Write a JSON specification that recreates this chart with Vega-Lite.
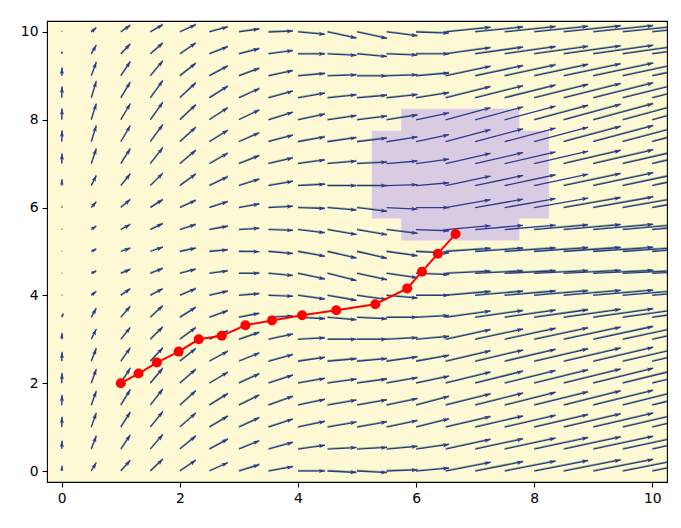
{
 "$schema": "https://vega.github.io/schema/vega-lite/v6.json",
 "width": 620, "height": 461,
 "autosize": {"type": "none"},
 "padding": {"left": 47, "top": 21, "right": 14, "bottom": 46},
 "background": "white",
 "config": {
  "view": {"fill": "#fef9d5", "stroke": "black", "strokeWidth": 1.1},
  "axis": {"domain": false, "grid": false, "ticks": true, "tickColor": "black", "tickSize": 5, "tickWidth": 1.1, "labelFont": "DejaVu Sans", "labelFontSize": 13.9, "labelColor": "black", "labelPadding": 4, "title": null, "format": "d"}
 },
 "datasets": {
  "obstacle": [{"x1":5.75,"x2":7.75,"y1":5.25,"y2":8.25},{"x1":5.25,"x2":8.25,"y1":5.75,"y2":7.75}],
  "path": [{"i":1,"x":1.0,"y":2.0},{"i":2,"x":1.30,"y":2.22},{"i":3,"x":1.61,"y":2.47},{"i":4,"x":1.98,"y":2.72},{"i":5,"x":2.32,"y":3.0},{"i":6,"x":2.71,"y":3.08},{"i":7,"x":3.11,"y":3.32},{"i":8,"x":3.56,"y":3.43},{"i":9,"x":4.07,"y":3.55},{"i":10,"x":4.65,"y":3.66},{"i":11,"x":5.31,"y":3.80},{"i":12,"x":5.85,"y":4.16},{"i":13,"x":6.10,"y":4.54},{"i":14,"x":6.37,"y":4.95},{"i":15,"x":6.67,"y":5.40}],
  "field": [
{"x":0,"y":0,"u":0.3,"v":5},{"x":0,"y":0.5,"u":0.3,"v":8},{"x":0,"y":1,"u":0.3,"v":10},{"x":0,"y":1.5,"u":0.3,"v":10},{"x":0,"y":2,"u":0.3,"v":10},{"x":0,"y":2.5,"u":0.3,"v":9},{"x":0,"y":3,"u":0.3,"v":6},{"x":0,"y":3.5,"u":1.5,"v":3.5},{"x":0,"y":4,"u":0.3,"v":0.5},{"x":0,"y":4.5,"u":0.3,"v":0.3},{"x":0,"y":5,"u":0.3,"v":0.3},{"x":0,"y":5.5,"u":0.3,"v":0.5},{"x":0,"y":6,"u":0.3,"v":1},{"x":0,"y":6.5,"u":0.3,"v":6},{"x":0,"y":7,"u":0.3,"v":10},{"x":0,"y":7.5,"u":0.3,"v":11},{"x":0,"y":8,"u":0.3,"v":11},{"x":0,"y":8.5,"u":0.3,"v":11},{"x":0,"y":9,"u":0.3,"v":8},{"x":0,"y":9.5,"u":0.3,"v":2},{"x":0,"y":10,"u":0.3,"v":0.5},
{"x":0.5,"y":0,"u":5,"v":8.3},{"x":0.5,"y":0.5,"u":5,"v":13},{"x":0.5,"y":1,"u":5,"v":14},{"x":0.5,"y":1.5,"u":5,"v":14},{"x":0.5,"y":2,"u":5,"v":14},{"x":0.5,"y":2.5,"u":5,"v":12.7},{"x":0.5,"y":3,"u":5,"v":10},{"x":0.5,"y":3.5,"u":5,"v":9},{"x":0.5,"y":4,"u":5,"v":4},{"x":0.5,"y":4.5,"u":5,"v":2.3},{"x":0.5,"y":5,"u":5,"v":2.3},{"x":0.5,"y":5.5,"u":5,"v":3.3},{"x":0.5,"y":6,"u":5,"v":5.7},{"x":0.5,"y":6.5,"u":5,"v":10},{"x":0.5,"y":7,"u":5,"v":15},{"x":0.5,"y":7.5,"u":5,"v":16},{"x":0.5,"y":8,"u":5,"v":16},{"x":0.5,"y":8.5,"u":5,"v":16.5},{"x":0.5,"y":9,"u":5,"v":13.7},{"x":0.5,"y":9.5,"u":5,"v":8.7},{"x":0.5,"y":10,"u":5,"v":4.2},
{"x":1,"y":0,"u":9.5,"v":10.7},{"x":1,"y":0.5,"u":9.5,"v":14},{"x":1,"y":1,"u":9.5,"v":15},{"x":1,"y":1.5,"u":9.5,"v":15.5},{"x":1,"y":2,"u":9.5,"v":15},{"x":1,"y":2.5,"u":9.5,"v":13.3},{"x":1,"y":3,"u":9.5,"v":11.7},{"x":1,"y":3.5,"u":9.5,"v":11},{"x":1,"y":4,"u":9.5,"v":6.7},{"x":1,"y":4.5,"u":9.5,"v":4},{"x":1,"y":5,"u":9.5,"v":3.3},{"x":1,"y":5.5,"u":9.5,"v":5},{"x":1,"y":6,"u":9.5,"v":8},{"x":1,"y":6.5,"u":9.5,"v":11.7},{"x":1,"y":7,"u":9.5,"v":15},{"x":1,"y":7.5,"u":9.5,"v":16},{"x":1,"y":8,"u":9.5,"v":16},{"x":1,"y":8.5,"u":9.5,"v":15.7},{"x":1,"y":9,"u":9.5,"v":14.3},{"x":1,"y":9.5,"u":9.5,"v":10},{"x":1,"y":10,"u":9.5,"v":6.7},
{"x":1.5,"y":0,"u":12.5,"v":11.7},{"x":1.5,"y":0.5,"u":12.5,"v":14.5},{"x":1.5,"y":1,"u":12.5,"v":15.5},{"x":1.5,"y":1.5,"u":12.5,"v":16},{"x":1.5,"y":2,"u":12.5,"v":15},{"x":1.5,"y":2.5,"u":12.5,"v":13.3},{"x":1.5,"y":3,"u":12.5,"v":12.3},{"x":1.5,"y":3.5,"u":12.5,"v":11.7},{"x":1.5,"y":4,"u":12.5,"v":6.7},{"x":1.5,"y":4.5,"u":12.5,"v":5},{"x":1.5,"y":5,"u":12.5,"v":4.3},{"x":1.5,"y":5.5,"u":12.5,"v":6},{"x":1.5,"y":6,"u":12.5,"v":8},{"x":1.5,"y":6.5,"u":12.5,"v":12.3},{"x":1.5,"y":7,"u":12.5,"v":16},{"x":1.5,"y":7.5,"u":12.5,"v":17},{"x":1.5,"y":8,"u":12.5,"v":17.5},{"x":1.5,"y":8.5,"u":12.5,"v":17.3},{"x":1.5,"y":9,"u":12.5,"v":15},{"x":1.5,"y":9.5,"u":12.5,"v":11},{"x":1.5,"y":10,"u":12.5,"v":7.3},
{"x":2,"y":0,"u":16,"v":10.7},{"x":2,"y":0.5,"u":16,"v":13},{"x":2,"y":1,"u":16,"v":14},{"x":2,"y":1.5,"u":16,"v":14.5},{"x":2,"y":2,"u":16,"v":14},{"x":2,"y":2.5,"u":16,"v":12.7},{"x":2,"y":3,"u":16,"v":11.7},{"x":2,"y":3.5,"u":16,"v":10},{"x":2,"y":4,"u":16,"v":6.7},{"x":2,"y":4.5,"u":16,"v":4.3},{"x":2,"y":5,"u":16,"v":3.3},{"x":2,"y":5.5,"u":16,"v":5},{"x":2,"y":6,"u":16,"v":7.3},{"x":2,"y":6.5,"u":16,"v":11.7},{"x":2,"y":7,"u":16,"v":13.5},{"x":2,"y":7.5,"u":16,"v":14.5},{"x":2,"y":8,"u":16,"v":15},{"x":2,"y":8.5,"u":16,"v":15},{"x":2,"y":9,"u":16,"v":12.7},{"x":2,"y":9.5,"u":16,"v":11},{"x":2,"y":10,"u":16,"v":7.3},
{"x":2.5,"y":0,"u":18.5,"v":8.3},{"x":2.5,"y":0.5,"u":18.5,"v":10},{"x":2.5,"y":1,"u":18.5,"v":11},{"x":2.5,"y":1.5,"u":18.5,"v":11.5},{"x":2.5,"y":2,"u":18.5,"v":11},{"x":2.5,"y":2.5,"u":18.5,"v":10},{"x":2.5,"y":3,"u":18.5,"v":8.5},{"x":2.5,"y":3.5,"u":18.5,"v":6.7},{"x":2.5,"y":4,"u":18.5,"v":4.3},{"x":2.5,"y":4.5,"u":18.5,"v":2.5},{"x":2.5,"y":5,"u":18.5,"v":1.7},{"x":2.5,"y":5.5,"u":18.5,"v":3.3},{"x":2.5,"y":6,"u":18.5,"v":6},{"x":2.5,"y":6.5,"u":18.5,"v":9},{"x":2.5,"y":7,"u":18.5,"v":10.5},{"x":2.5,"y":7.5,"u":18.5,"v":11.5},{"x":2.5,"y":8,"u":18.5,"v":12},{"x":2.5,"y":8.5,"u":18.5,"v":11.7},{"x":2.5,"y":9,"u":18.5,"v":10},{"x":2.5,"y":9.5,"u":18.5,"v":7.3},{"x":2.5,"y":10,"u":18.5,"v":5},
{"x":3,"y":0,"u":20.5,"v":6.3},{"x":3,"y":0.5,"u":20.5,"v":8.3},{"x":3,"y":1,"u":20.5,"v":9.5},{"x":3,"y":1.5,"u":20.5,"v":10.2},{"x":3,"y":2,"u":20.5,"v":9.5},{"x":3,"y":2.5,"u":20.5,"v":8.3},{"x":3,"y":3,"u":20.5,"v":6.9},{"x":3,"y":3.5,"u":20.5,"v":4},{"x":3,"y":4,"u":20.5,"v":1.7},{"x":3,"y":4.5,"u":20.5,"v":0.2},{"x":3,"y":5,"u":20.5,"v":-0.2},{"x":3,"y":5.5,"u":20.5,"v":1.2},{"x":3,"y":6,"u":20.5,"v":3.6},{"x":3,"y":6.5,"u":20.5,"v":6.6},{"x":3,"y":7,"u":20.5,"v":8.1},{"x":3,"y":7.5,"u":20.5,"v":9},{"x":3,"y":8,"u":20.5,"v":9.8},{"x":3,"y":8.5,"u":20.5,"v":9.2},{"x":3,"y":9,"u":20.5,"v":7.6},{"x":3,"y":9.5,"u":20.5,"v":5.3},{"x":3,"y":10,"u":20.5,"v":3},
{"x":3.5,"y":0,"u":24.5,"v":4.3},{"x":3.5,"y":0.5,"u":24.5,"v":6.6},{"x":3.5,"y":1,"u":24.5,"v":8},{"x":3.5,"y":1.5,"u":24.5,"v":8.9},{"x":3.5,"y":2,"u":24.5,"v":8},{"x":3.5,"y":2.5,"u":24.5,"v":6.6},{"x":3.5,"y":3,"u":24.5,"v":5.2},{"x":3.5,"y":3.5,"u":24.5,"v":1.3},{"x":3.5,"y":4,"u":24.5,"v":-0.9},{"x":3.5,"y":4.5,"u":24.5,"v":-2.1},{"x":3.5,"y":5,"u":24.5,"v":-2.1},{"x":3.5,"y":5.5,"u":24.5,"v":-0.9},{"x":3.5,"y":6,"u":24.5,"v":1.3},{"x":3.5,"y":6.5,"u":24.5,"v":4.3},{"x":3.5,"y":7,"u":24.5,"v":5.7},{"x":3.5,"y":7.5,"u":24.5,"v":6.6},{"x":3.5,"y":8,"u":24.5,"v":7.5},{"x":3.5,"y":8.5,"u":24.5,"v":6.6},{"x":3.5,"y":9,"u":24.5,"v":5.2},{"x":3.5,"y":9.5,"u":24.5,"v":3.4},{"x":3.5,"y":10,"u":24.5,"v":0.9},
{"x":4,"y":0,"u":27,"v":0},{"x":4,"y":0.5,"u":27,"v":3.8},{"x":4,"y":1,"u":27,"v":5.7},{"x":4,"y":1.5,"u":27,"v":5.7},{"x":4,"y":2,"u":27,"v":4.8},{"x":4,"y":2.5,"u":27,"v":3.8},{"x":4,"y":3,"u":27,"v":1.4},{"x":4,"y":3.5,"u":27,"v":-1.4},{"x":4,"y":4,"u":27,"v":-3.8},{"x":4,"y":4.5,"u":27,"v":-5.7},{"x":4,"y":5,"u":27,"v":-4.8},{"x":4,"y":5.5,"u":27,"v":-3.3},{"x":4,"y":6,"u":27,"v":-0.9},{"x":4,"y":6.5,"u":27,"v":1.4},{"x":4,"y":7,"u":27,"v":3.8},{"x":4,"y":7.5,"u":27,"v":4.8},{"x":4,"y":8,"u":27,"v":5.7},{"x":4,"y":8.5,"u":27,"v":4.8},{"x":4,"y":9,"u":27,"v":2.4},{"x":4,"y":9.5,"u":27,"v":0},{"x":4,"y":10,"u":27,"v":-2.4},
{"x":4.5,"y":0,"u":29,"v":-1.5},{"x":4.5,"y":0.5,"u":29,"v":1.5},{"x":4.5,"y":1,"u":29,"v":5.1},{"x":4.5,"y":1.5,"u":29,"v":5.1},{"x":4.5,"y":2,"u":29,"v":4.1},{"x":4.5,"y":2.5,"u":29,"v":2.5},{"x":4.5,"y":3,"u":29,"v":0},{"x":4.5,"y":3.5,"u":29,"v":-2.5},{"x":4.5,"y":4,"u":29,"v":-5.1},{"x":4.5,"y":4.5,"u":29,"v":-7.2},{"x":4.5,"y":5,"u":29,"v":-6.7},{"x":4.5,"y":5.5,"u":29,"v":-5.1},{"x":4.5,"y":6,"u":29,"v":-2.5},{"x":4.5,"y":6.5,"u":29,"v":0},{"x":4.5,"y":7,"u":29,"v":2.5},{"x":4.5,"y":7.5,"u":29,"v":4.1},{"x":4.5,"y":8,"u":29,"v":4.1},{"x":4.5,"y":8.5,"u":29,"v":3},{"x":4.5,"y":9,"u":29,"v":1},{"x":4.5,"y":9.5,"u":29,"v":-1.5},{"x":4.5,"y":10,"u":29,"v":-6.2},
{"x":5,"y":0,"u":30,"v":-1.6},{"x":5,"y":0.5,"u":30,"v":1.6},{"x":5,"y":1,"u":30,"v":5.3},{"x":5,"y":1.5,"u":30,"v":5.3},{"x":5,"y":2,"u":30,"v":4.2},{"x":5,"y":2.5,"u":30,"v":2.6},{"x":5,"y":3,"u":30,"v":0},{"x":5,"y":3.5,"u":30,"v":-1.6},{"x":5,"y":4,"u":30,"v":-4.2},{"x":5,"y":4.5,"u":30,"v":-6.4},{"x":5,"y":5,"u":30,"v":-6.9},{"x":5,"y":5.5,"u":30,"v":-5.3},{"x":5,"y":6,"u":30,"v":-3.7},{"x":5,"y":6.5,"u":30,"v":0},{"x":5,"y":7,"u":30,"v":1.6},{"x":5,"y":7.5,"u":30,"v":3.7},{"x":5,"y":8,"u":30,"v":3.7},{"x":5,"y":8.5,"u":30,"v":2.6},{"x":5,"y":9,"u":30,"v":0},{"x":5,"y":9.5,"u":30,"v":-2.6},{"x":5,"y":10,"u":30,"v":-6.4},
{"x":5.5,"y":0,"u":31,"v":1.1},{"x":5.5,"y":0.5,"u":31,"v":2.7},{"x":5.5,"y":1,"u":31,"v":6.6},{"x":5.5,"y":1.5,"u":31,"v":6.6},{"x":5.5,"y":2,"u":31,"v":5.5},{"x":5.5,"y":2.5,"u":31,"v":4.4},{"x":5.5,"y":3,"u":31,"v":1.6},{"x":5.5,"y":3.5,"u":31,"v":0},{"x":5.5,"y":4,"u":31,"v":-2.7},{"x":5.5,"y":4.5,"u":31,"v":-4.4},{"x":5.5,"y":5,"u":31,"v":-4.4},{"x":5.5,"y":5.5,"u":31,"v":-3.8},{"x":5.5,"y":6,"u":31,"v":-1.6},{"x":5.5,"y":6.5,"u":31,"v":1.1},{"x":5.5,"y":7,"u":31,"v":2.7},{"x":5.5,"y":7.5,"u":31,"v":4.9},{"x":5.5,"y":8,"u":31,"v":4.9},{"x":5.5,"y":8.5,"u":31,"v":3.3},{"x":5.5,"y":9,"u":31,"v":1.1},{"x":5.5,"y":9.5,"u":31,"v":-1.1},{"x":5.5,"y":10,"u":31,"v":-3.8},
{"x":6,"y":0,"u":33,"v":2.9},{"x":6,"y":0.5,"u":33,"v":4.6},{"x":6,"y":1,"u":33,"v":8.2},{"x":6,"y":1.5,"u":33,"v":8.8},{"x":6,"y":2,"u":33,"v":7},{"x":6,"y":2.5,"u":33,"v":5.8},{"x":6,"y":3,"u":33,"v":2.9},{"x":6,"y":3.5,"u":33,"v":1.7},{"x":6,"y":4,"u":33,"v":0},{"x":6,"y":4.5,"u":33,"v":-1.2},{"x":6,"y":5,"u":33,"v":-1.7},{"x":6,"y":5.5,"u":33,"v":-1.2},{"x":6,"y":6,"u":33,"v":0},{"x":6,"y":6.5,"u":33,"v":2.9},{"x":6,"y":7,"u":33,"v":4.6},{"x":6,"y":7.5,"u":33,"v":7},{"x":6,"y":8,"u":33,"v":7},{"x":6,"y":8.5,"u":33,"v":5.2},{"x":6,"y":9,"u":33,"v":2.9},{"x":6,"y":9.5,"u":33,"v":0},{"x":6,"y":10,"u":33,"v":-1.2},
{"x":6.5,"y":0,"u":45,"v":8.7},{"x":6.5,"y":0.5,"u":45,"v":9.6},{"x":6.5,"y":1,"u":45,"v":10.4},{"x":6.5,"y":1.5,"u":45,"v":11.2},{"x":6.5,"y":2,"u":45,"v":11.2},{"x":6.5,"y":2.5,"u":45,"v":10.4},{"x":6.5,"y":3,"u":45,"v":9.6},{"x":6.5,"y":3.5,"u":45,"v":6.3},{"x":6.5,"y":4,"u":45,"v":3.9},{"x":6.5,"y":4.5,"u":45,"v":2.3},{"x":6.5,"y":5,"u":45,"v":3.2},{"x":6.5,"y":5.5,"u":45,"v":3.9},{"x":6.5,"y":6,"u":45,"v":7.9},{"x":6.5,"y":6.5,"u":45,"v":9.6},{"x":6.5,"y":7,"u":45,"v":10.4},{"x":6.5,"y":7.5,"u":45,"v":12.1},{"x":6.5,"y":8,"u":45,"v":12.1},{"x":6.5,"y":8.5,"u":45,"v":11.2},{"x":6.5,"y":9,"u":45,"v":9.6},{"x":6.5,"y":9.5,"u":45,"v":6.3},{"x":6.5,"y":10,"u":45,"v":4.7},
{"x":7,"y":0,"u":48,"v":9.3},{"x":7,"y":0.5,"u":48,"v":10.2},{"x":7,"y":1,"u":48,"v":11.1},{"x":7,"y":1.5,"u":48,"v":12},{"x":7,"y":2,"u":48,"v":12},{"x":7,"y":2.5,"u":48,"v":11.1},{"x":7,"y":3,"u":48,"v":10.2},{"x":7,"y":3.5,"u":48,"v":6.8},{"x":7,"y":4,"u":48,"v":4.2},{"x":7,"y":4.5,"u":48,"v":2.5},{"x":7,"y":5,"u":48,"v":3.4},{"x":7,"y":5.5,"u":48,"v":4.2},{"x":7,"y":6,"u":48,"v":8.4},{"x":7,"y":6.5,"u":48,"v":10.2},{"x":7,"y":7,"u":48,"v":11.1},{"x":7,"y":7.5,"u":48,"v":12.9},{"x":7,"y":8,"u":48,"v":12.9},{"x":7,"y":8.5,"u":48,"v":12},{"x":7,"y":9,"u":48,"v":10.2},{"x":7,"y":9.5,"u":48,"v":6.8},{"x":7,"y":10,"u":48,"v":5},
{"x":7.5,"y":0,"u":51,"v":9.9},{"x":7.5,"y":0.5,"u":51,"v":10.9},{"x":7.5,"y":1,"u":51,"v":11.8},{"x":7.5,"y":1.5,"u":51,"v":12.7},{"x":7.5,"y":2,"u":51,"v":12.7},{"x":7.5,"y":2.5,"u":51,"v":11.8},{"x":7.5,"y":3,"u":51,"v":10.9},{"x":7.5,"y":3.5,"u":51,"v":7.2},{"x":7.5,"y":4,"u":51,"v":4.4},{"x":7.5,"y":4.5,"u":51,"v":2.7},{"x":7.5,"y":5,"u":51,"v":3.6},{"x":7.5,"y":5.5,"u":51,"v":4.4},{"x":7.5,"y":6,"u":51,"v":9},{"x":7.5,"y":6.5,"u":51,"v":10.9},{"x":7.5,"y":7,"u":51,"v":11.8},{"x":7.5,"y":7.5,"u":51,"v":13.7},{"x":7.5,"y":8,"u":51,"v":13.7},{"x":7.5,"y":8.5,"u":51,"v":12.7},{"x":7.5,"y":9,"u":51,"v":10.9},{"x":7.5,"y":9.5,"u":51,"v":7.2},{"x":7.5,"y":10,"u":51,"v":5.4},
{"x":8,"y":0,"u":54,"v":10.5},{"x":8,"y":0.5,"u":54,"v":11.5},{"x":8,"y":1,"u":54,"v":12.5},{"x":8,"y":1.5,"u":54,"v":13.4},{"x":8,"y":2,"u":54,"v":13.4},{"x":8,"y":2.5,"u":54,"v":12.5},{"x":8,"y":3,"u":54,"v":11.5},{"x":8,"y":3.5,"u":54,"v":7.6},{"x":8,"y":4,"u":54,"v":4.7},{"x":8,"y":4.5,"u":54,"v":2.8},{"x":8,"y":5,"u":54,"v":3.8},{"x":8,"y":5.5,"u":54,"v":4.7},{"x":8,"y":6,"u":54,"v":9.5},{"x":8,"y":6.5,"u":54,"v":11.5},{"x":8,"y":7,"u":54,"v":12.5},{"x":8,"y":7.5,"u":54,"v":14.5},{"x":8,"y":8,"u":54,"v":14.5},{"x":8,"y":8.5,"u":54,"v":13.4},{"x":8,"y":9,"u":54,"v":11.5},{"x":8,"y":9.5,"u":54,"v":7.6},{"x":8,"y":10,"u":54,"v":5.7},
{"x":8.5,"y":0,"u":57,"v":11.1},{"x":8.5,"y":0.5,"u":57,"v":12.1},{"x":8.5,"y":1,"u":57,"v":13.2},{"x":8.5,"y":1.5,"u":57,"v":14.2},{"x":8.5,"y":2,"u":57,"v":14.2},{"x":8.5,"y":2.5,"u":57,"v":13.2},{"x":8.5,"y":3,"u":57,"v":12.1},{"x":8.5,"y":3.5,"u":57,"v":8},{"x":8.5,"y":4,"u":57,"v":5},{"x":8.5,"y":4.5,"u":57,"v":3},{"x":8.5,"y":5,"u":57,"v":4},{"x":8.5,"y":5.5,"u":57,"v":5},{"x":8.5,"y":6,"u":57,"v":10},{"x":8.5,"y":6.5,"u":57,"v":12.1},{"x":8.5,"y":7,"u":57,"v":13.2},{"x":8.5,"y":7.5,"u":57,"v":15.3},{"x":8.5,"y":8,"u":57,"v":15.3},{"x":8.5,"y":8.5,"u":57,"v":14.2},{"x":8.5,"y":9,"u":57,"v":12.1},{"x":8.5,"y":9.5,"u":57,"v":8},{"x":8.5,"y":10,"u":57,"v":6},
{"x":9,"y":0,"u":60,"v":11.6},{"x":9,"y":0.5,"u":60,"v":12.8},{"x":9,"y":1,"u":60,"v":13.9},{"x":9,"y":1.5,"u":60,"v":14.9},{"x":9,"y":2,"u":60,"v":14.9},{"x":9,"y":2.5,"u":60,"v":13.9},{"x":9,"y":3,"u":60,"v":12.8},{"x":9,"y":3.5,"u":60,"v":8.5},{"x":9,"y":4,"u":60,"v":5.2},{"x":9,"y":4.5,"u":60,"v":3.1},{"x":9,"y":5,"u":60,"v":4.2},{"x":9,"y":5.5,"u":60,"v":5.2},{"x":9,"y":6,"u":60,"v":10.6},{"x":9,"y":6.5,"u":60,"v":12.8},{"x":9,"y":7,"u":60,"v":13.9},{"x":9,"y":7.5,"u":60,"v":16.1},{"x":9,"y":8,"u":60,"v":16.1},{"x":9,"y":8.5,"u":60,"v":14.9},{"x":9,"y":9,"u":60,"v":12.8},{"x":9,"y":9.5,"u":60,"v":8.5},{"x":9,"y":10,"u":60,"v":6.3},
{"x":9.5,"y":0,"u":62,"v":12},{"x":9.5,"y":0.5,"u":62,"v":13.2},{"x":9.5,"y":1,"u":62,"v":14.3},{"x":9.5,"y":1.5,"u":62,"v":15.4},{"x":9.5,"y":2,"u":62,"v":15.4},{"x":9.5,"y":2.5,"u":62,"v":14.3},{"x":9.5,"y":3,"u":62,"v":13.2},{"x":9.5,"y":3.5,"u":62,"v":8.7},{"x":9.5,"y":4,"u":62,"v":5.4},{"x":9.5,"y":4.5,"u":62,"v":3.2},{"x":9.5,"y":5,"u":62,"v":4.3},{"x":9.5,"y":5.5,"u":62,"v":5.4},{"x":9.5,"y":6,"u":62,"v":10.9},{"x":9.5,"y":6.5,"u":62,"v":13.2},{"x":9.5,"y":7,"u":62,"v":14.3},{"x":9.5,"y":7.5,"u":62,"v":16.6},{"x":9.5,"y":8,"u":62,"v":16.6},{"x":9.5,"y":8.5,"u":62,"v":15.4},{"x":9.5,"y":9,"u":62,"v":13.2},{"x":9.5,"y":9.5,"u":62,"v":8.7},{"x":9.5,"y":10,"u":62,"v":6.5},
{"x":10,"y":0,"u":64,"v":12.4},{"x":10,"y":0.5,"u":64,"v":13.6},{"x":10,"y":1,"u":64,"v":14.8},{"x":10,"y":1.5,"u":64,"v":15.9},{"x":10,"y":2,"u":64,"v":15.9},{"x":10,"y":2.5,"u":64,"v":14.8},{"x":10,"y":3,"u":64,"v":13.6},{"x":10,"y":3.5,"u":64,"v":9},{"x":10,"y":4,"u":64,"v":5.6},{"x":10,"y":4.5,"u":64,"v":3.3},{"x":10,"y":5,"u":64,"v":4.5},{"x":10,"y":5.5,"u":64,"v":5.6},{"x":10,"y":6,"u":64,"v":11.3},{"x":10,"y":6.5,"u":64,"v":13.6},{"x":10,"y":7,"u":64,"v":14.8},{"x":10,"y":7.5,"u":64,"v":17.2},{"x":10,"y":8,"u":64,"v":17.2},{"x":10,"y":8.5,"u":64,"v":15.9},{"x":10,"y":9,"u":64,"v":13.6},{"x":10,"y":9.5,"u":64,"v":9},{"x":10,"y":10,"u":64,"v":6.7}
  ]
 },
 "layer": [
  {
   "data": {"name": "obstacle"},
   "mark": {"type": "rect", "color": "#d9cce2"},
   "encoding": {
    "x": {"field": "x1", "type": "quantitative", "scale": {"domain": [-0.25, 10.25], "nice": false, "zero": false}, "axis": {"values": [0, 2, 4, 6, 8, 10]}},
    "x2": {"field": "x2"},
    "y": {"field": "y1", "type": "quantitative", "scale": {"domain": [-0.25, 10.25], "nice": false, "zero": false}, "axis": {"values": [0, 2, 4, 6, 8, 10]}},
    "y2": {"field": "y2"}
   }
  },
  {
   "data": {"name": "field"},
   "transform": [
    {"filter": "!((datum.x >= 5.5 && datum.x <= 8 && datum.y >= 6 && datum.y <= 7.5) || (datum.x >= 6 && datum.x <= 7.5 && datum.y >= 5.5 && datum.y <= 8))"},
    {"calculate": "datum.x + datum.u / 59.05", "as": "xe"},
    {"calculate": "datum.y + datum.v / 43.905", "as": "ye"}
   ],
   "mark": {"type": "rule", "color": "#4f9a3c", "strokeWidth": 1.2, "opacity": 0.6, "clip": true, "yOffset": -0.8, "y2Offset": -0.8},
   "encoding": {
    "x": {"field": "x", "type": "quantitative"},
    "y": {"field": "y", "type": "quantitative"},
    "x2": {"field": "xe"},
    "y2": {"field": "ye"}
   }
  },
  {
   "data": {"name": "field"},
   "transform": [
    {"calculate": "datum.x + datum.u / 59.05", "as": "xe"},
    {"calculate": "datum.y + datum.v / 43.905", "as": "ye"}
   ],
   "mark": {"type": "rule", "color": "#2c3a8c", "strokeWidth": 1.3, "clip": true},
   "encoding": {
    "x": {"field": "x", "type": "quantitative"},
    "y": {"field": "y", "type": "quantitative"},
    "x2": {"field": "xe"},
    "y2": {"field": "ye"}
   }
  },
  {
   "data": {"name": "field"},
   "transform": [
    {"calculate": "datum.x + datum.u / 59.05", "as": "xe"},
    {"calculate": "datum.y + datum.v / 43.905", "as": "ye"},
    {"calculate": "-atan2(datum.v, datum.u) * 180 / PI", "as": "ang"},
    {"calculate": "sqrt(datum.u * datum.u + datum.v * datum.v)", "as": "len"}
   ],
   "mark": {"type": "point", "shape": "M0,0L-2,-0.7L-1.6,0L-2,0.7Z", "filled": true, "color": "#2c3a8c", "opacity": 1, "strokeWidth": 0, "clip": true},
   "encoding": {
    "x": {"field": "xe", "type": "quantitative"},
    "y": {"field": "ye", "type": "quantitative"},
    "angle": {"field": "ang", "type": "quantitative", "scale": null},
    "size": {"field": "len", "type": "quantitative", "scale": {"type": "pow", "exponent": 2, "domain": [0, 7], "range": [0, 36], "clamp": true}, "legend": null}
   }
  },
  {
   "data": {"name": "path"},
   "mark": {"type": "line", "color": "#ff0000", "strokeWidth": 2},
   "encoding": {
    "x": {"field": "x", "type": "quantitative"},
    "y": {"field": "y", "type": "quantitative"},
    "order": {"field": "i", "type": "quantitative"}
   }
  },
  {
   "data": {"name": "path"},
   "mark": {"type": "point", "filled": true, "color": "#ff0000", "opacity": 1, "size": 100, "shape": "circle"},
   "encoding": {
    "x": {"field": "x", "type": "quantitative"},
    "y": {"field": "y", "type": "quantitative"}
   }
  }
 ]
}
